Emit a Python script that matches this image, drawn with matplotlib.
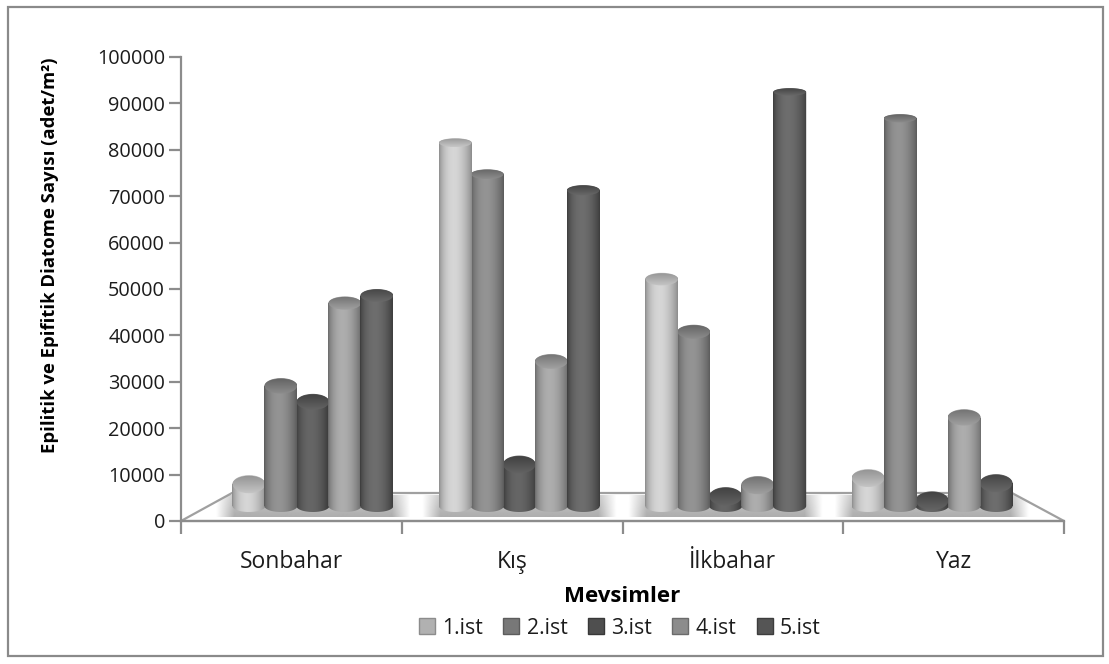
import numpy as np
import matplotlib
matplotlib.use("Agg")
import matplotlib.pyplot as plt
from matplotlib.patches import Patch, Rectangle, Ellipse, Polygon

seasons = ["Sonbahar", "Kış", "İlkbahar", "Yaz"]
stations = ["1.ist", "2.ist", "3.ist", "4.ist", "5.ist"]
ist1 = [9900, 82500, 53500, 11200]
ist2 = [30800, 75800, 42300, 87700]
ist3 = [27400, 14100, 7300, 6400]
ist4 = [48400, 36000, 9700, 24100]
ist5 = [50000, 72400, 93300, 10100]
series = [ist1, ist2, ist3, ist4, ist5]
# edge / highlight grey of each station
edge_grey = [0.55, 0.36, 0.22, 0.42, 0.24]
high_grey = [0.84, 0.58, 0.40, 0.68, 0.43]
ytick_vals = list(range(0, 100001, 10000))

W, H = 1109, 664
plt.rcParams['font.family'] = ['Open Sans', 'DejaVu Sans']
fig = plt.figure(figsize=(W / 100, H / 100), dpi=100, facecolor="white")
fig.add_artist(Rectangle((8 / W, 1 - 656 / H), 1095 / W, 649 / H, transform=fig.transFigure,
                         fill=False, ec="#8a8a8a", lw=1.6))
ax = fig.add_axes([181 / W, 1 - 521 / H, 883 / W, 464 / H])
ax.set_xlim(-0.5, 3.5)
ax.set_ylim(0, 100000)
ax.patch.set_alpha(0)
for s in ["top", "right"]:
    ax.spines[s].set_visible(False)
for s in ["left", "bottom"]:
    ax.spines[s].set_color("#8c8c8c")
    ax.spines[s].set_linewidth(1.6)

PXX = 883 / 4          # px per category
PXY = 464 / 100000     # px per unit
floor_back = 28 / PXY
bl, br = -0.5 + 51 / PXX, 3.5 - 52 / PXX
floor_pts = [(-0.5, 0), (3.5, 0), (br, floor_back), (bl, floor_back)]

floor = Polygon(floor_pts, closed=True, fc="white", ec="#a0a0a0", lw=1.6, zorder=1)
floor.set_clip_on(False)
ax.add_patch(floor)

# floor shadow with soft ends around every group
shade_x = np.linspace(-0.5, 3.5, 900)
alpha = np.zeros_like(shade_x)
shrink = 0.935
for i in range(4):
    c = 1.5 + shrink * (i - 1.5)
    alpha = np.maximum(alpha, np.clip((97 / PXX - np.abs(shade_x - c)) / (18 / PXX), 0, 1))
vert = np.linspace(0.55, 0.8, 24)[:, None]
rgba = np.ones((24, len(shade_x), 4)) * 0.6
rgba[..., 3] = alpha[None, :] * vert
im = ax.imshow(rgba, extent=(-0.5, 3.5, 4 / PXY, 26 / PXY), aspect="auto",
               interpolation="bilinear", zorder=2)
im.set_clip_path(Polygon(floor_pts, transform=ax.transData))

# cylinders
bw = 33 / PXX
base_c = 15 / PXY
base_h = 12 / PXY
n = 64
t = np.linspace(0, 1, n)
profile = np.sin(np.pi * t ** 0.85) ** 0.8

for j, vals in enumerate(series):
    for i, v in enumerate(vals):
        xc = 1.5 + shrink * ((i - 1.5) + (j - 2) * 0.155)
        top_h = (20 - 13 * v / 100000) / PXY
        top_c = v - top_h / 2
        z = 3 + v / 100000
        ax.bar(xc, top_c - base_c, bottom=base_c, width=bw,
               color=str(edge_grey[j]), lw=0, zorder=z)
        th = np.linspace(np.pi, 2 * np.pi, 40)
        bottom_pts = np.c_[xc + bw / 2 * np.cos(th), base_c + base_h / 2 * np.sin(th)]
        th2 = np.linspace(0, np.pi, 40)
        top_pts = np.c_[xc + bw / 2 * np.cos(th2), top_c + top_h / 2 * np.sin(th2)]
        shape = Polygon(np.r_[bottom_pts, top_pts], closed=True, transform=ax.transData)
        g = edge_grey[j] + (high_grey[j] - edge_grey[j]) * profile
        img = np.repeat(g[None, :, None], 3, axis=2)
        body = ax.imshow(img, extent=(xc - bw / 2, xc + bw / 2, base_c - base_h, v),
                         aspect="auto", vmin=0, vmax=1, interpolation="bilinear", zorder=z + 0.001)
        body.set_clip_path(shape)
        # top face: soft vertical shading that fades into the body
        cap_img = np.linspace(edge_grey[j] + 0.03, (edge_grey[j] + high_grey[j]) / 2 + 0.08, 16)
        cap_rgb = np.repeat(np.clip(cap_img, 0, 1)[:, None, None], 3, axis=2)
        cap = ax.imshow(cap_rgb, extent=(xc - bw / 2, xc + bw / 2, top_c - top_h / 2, v),
                        aspect="auto", vmin=0, vmax=1, interpolation="bilinear", zorder=z + 0.002)
        cap.set_clip_path(Ellipse((xc, top_c), bw * 0.98, top_h * 0.94, transform=ax.transData))

ax.set_xlim(-0.5, 3.5)
ax.set_ylim(0, 100000)
ax.set_xticks([-0.5, 0.5, 1.5, 2.5, 3.5])
ax.set_xticklabels([])
ax.set_xticks([0, 1, 2, 3], minor=True)
ax.set_xticklabels(seasons, minor=True, fontsize=16.5, color="#1c1c1c")
ax.tick_params(axis="x", which="major", length=9, width=1.6, color="#8c8c8c")
ax.tick_params(axis="x", which="minor", length=0, pad=21)
ax.set_yticks(ytick_vals)
ax.set_yticklabels([str(v) for v in ytick_vals], fontsize=14.3, color="#1c1c1c")
ax.tick_params(axis="y", length=9, width=1.6, color="#8c8c8c", pad=2.5)

ax.set_xlabel("Mevsimler", fontsize=16, fontweight="bold", color="black")
ax.xaxis.set_label_coords(0.5, -(597 - 521) / 464, transform=ax.transAxes)
ax.xaxis.label.set_verticalalignment("center")
ax.set_ylabel("Epilitik ve Epifitik Diatome Sayısı (adet/m²)", fontsize=13.3, fontweight="bold", color="black")
ax.yaxis.set_label_coords(-(181 - 50) / 883, (521 - 255) / 464, transform=ax.transAxes)
ax.yaxis.label.set_verticalalignment("center")

mid_grey = [(edge_grey[k] + high_grey[k]) / 2 for k in range(5)]
handles = [Patch(fc=str(mid_grey[k]), ec=str(edge_grey[k]), lw=1, label=stations[k]) for k in range(5)]
fig.legend(handles=handles, loc="center", bbox_to_anchor=(620 / W, 1 - 628 / H), ncol=5, frameon=False,
           fontsize=15.3, handlelength=0.75, handleheight=0.75, handletextpad=0.35, columnspacing=0.95,
           labelcolor="#1c1c1c")

fig.savefig("out.png", dpi=100)
